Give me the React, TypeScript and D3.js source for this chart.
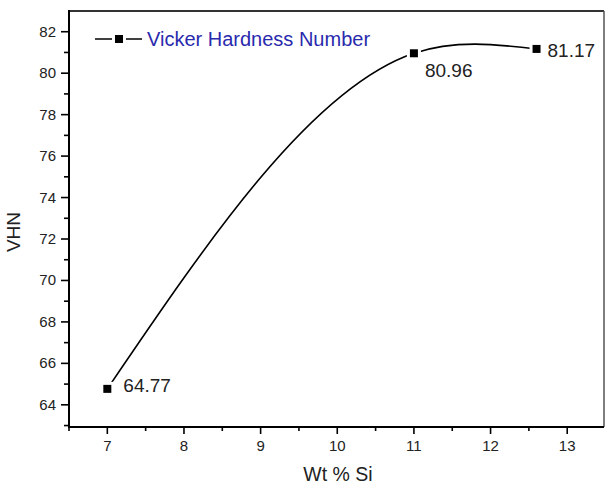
import React from "react";
import * as d3 from "d3";

const wtSi = [7, 11, 12.6];
const vhn = [64.77, 80.96, 81.17];
const pointLabels = ["64.77", "80.96", "81.17"];
const xTicks = [7, 8, 9, 10, 11, 12, 13];
const yTicks = [64, 66, 68, 70, 72, 74, 76, 78, 80, 82];
const legendLabel = "Vicker Hardness Number";
const xTitle = "Wt % Si";
const yTitle = "VHN";

const W = 605, H = 485;
const L = 69, R = 604, T = 11, B = 427;
const FONT = "'Liberation Sans', Arial, sans-serif";

// natural cubic spline slopes (function of x)
function splineSlopes(xs: number[], ys: number[]) {
  const n = xs.length;
  const h = xs.slice(1).map((x, i) => x - xs[i]);
  const M = new Array(n).fill(0);
  if (n === 3) {
    const rhs = 6 * ((ys[2] - ys[1]) / h[1] - (ys[1] - ys[0]) / h[0]);
    M[1] = rhs / (2 * (h[0] + h[1]));
  }
  const s: number[] = [];
  for (let i = 0; i < n - 1; i++) {
    s.push((ys[i + 1] - ys[i]) / h[i] - (h[i] * (2 * M[i] + M[i + 1])) / 6);
  }
  const last = n - 2;
  s.push((ys[n - 1] - ys[n - 2]) / h[last] + (h[last] * (2 * M[n - 1] + M[n - 2])) / 6);
  return s;
}

export default function App() {
  const x = d3.scaleLinear().domain([6.5, 13.48]).range([L, R]);
  const y = d3.scaleLinear().domain([62.93, 83]).range([B, T]);

  const s = splineSlopes(wtSi, vhn);
  const p = d3.path();
  p.moveTo(x(wtSi[0]), y(vhn[0]));
  for (let i = 0; i < wtSi.length - 1; i++) {
    const hh = wtSi[i + 1] - wtSi[i];
    p.bezierCurveTo(
      x(wtSi[i] + hh / 3), y(vhn[i] + (hh / 3) * s[i]),
      x(wtSi[i + 1] - hh / 3), y(vhn[i + 1] - (hh / 3) * s[i + 1]),
      x(wtSi[i + 1]), y(vhn[i + 1])
    );
  }

  const xMinor = d3.range(6.5, 13.5, 0.5).filter((v) => !xTicks.includes(v));
  const yMinor = d3.range(63, 83, 1).filter((v) => !yTicks.includes(v));
  const labelOffsets = [
    { dx: 16, dy: 3, anchor: "start" },
    { dx: 11, dy: 24, anchor: "start" },
    { dx: 11, dy: 8, anchor: "start" },
  ];
  const ms = 8;

  return (
    <svg width={W} height={H} style={{ position: "absolute", left: 0, top: 0, background: "#fff" }} fontFamily={FONT}>
      <rect x={0} y={0} width={W} height={H} fill="#fff" />
      {/* frame top/right */}
      <line x1={L} x2={R} y1={T} y2={T} stroke="#333" strokeWidth={2} />
      <line x1={R} x2={R} y1={T} y2={B} stroke="#555" strokeWidth={1.5} />
      {/* curve */}
      <path d={p.toString()} fill="none" stroke="#000" strokeWidth={1.6} />
      {wtSi.map((v, i) => (
        <g key={i}>
          <rect x={x(v) - 7} y={y(vhn[i]) - 7} width={14} height={14} fill="#fff" />
          <rect x={x(v) - ms / 2} y={y(vhn[i]) - ms / 2} width={ms} height={ms} fill="#000" />
          <text
            x={x(v) + labelOffsets[i].dx}
            y={y(vhn[i]) + labelOffsets[i].dy}
            fontSize={19}
            fill="#222"
            textAnchor={labelOffsets[i].anchor as any}
          >
            {pointLabels[i]}
          </text>
        </g>
      ))}
      {/* axes */}
      <line x1={L} x2={L} y1={T - 1} y2={B + 1} stroke="#000" strokeWidth={2} />
      <line x1={L - 1} x2={R} y1={B} y2={B} stroke="#000" strokeWidth={2} />
      {yTicks.map((t) => (
        <g key={t}>
          <line x1={L - 8} x2={L} y1={y(t)} y2={y(t)} stroke="#000" strokeWidth={1.6} />
          <text x={L - 13} y={y(t) + 5} fontSize={15} textAnchor="end" fill="#222">{t}</text>
        </g>
      ))}
      {yMinor.map((t) => (
        <line key={t} x1={L - 5} x2={L} y1={y(t)} y2={y(t)} stroke="#000" strokeWidth={1.6} />
      ))}
      {xTicks.map((t) => (
        <g key={t}>
          <line x1={x(t)} x2={x(t)} y1={B} y2={B + 7} stroke="#000" strokeWidth={1.6} />
          <text x={x(t)} y={B + 24} fontSize={15} textAnchor="middle" fill="#222">{t}</text>
        </g>
      ))}
      {xMinor.map((t) => (
        <line key={t} x1={x(t)} x2={x(t)} y1={B} y2={B + 4} stroke="#000" strokeWidth={1.6} />
      ))}
      {/* titles */}
      <text x={338} y={481} fontSize={19.5} textAnchor="middle" fill="#222">{xTitle}</text>
      <text transform={`translate(20,232) rotate(-90)`} fontSize={19} textAnchor="middle" fill="#222">{yTitle}</text>
      {/* legend */}
      <line x1={95} x2={142} y1={39} y2={39} stroke="#000" strokeWidth={1.6} />
      <rect x={112} y={32} width={14} height={14} fill="#fff" />
      <rect x={119 - ms / 2} y={39 - ms / 2} width={ms} height={ms} fill="#000" />
      <text x={147} y={46} fontSize={20} fill="#2a2aae">{legendLabel}</text>
    </svg>
  );
}
